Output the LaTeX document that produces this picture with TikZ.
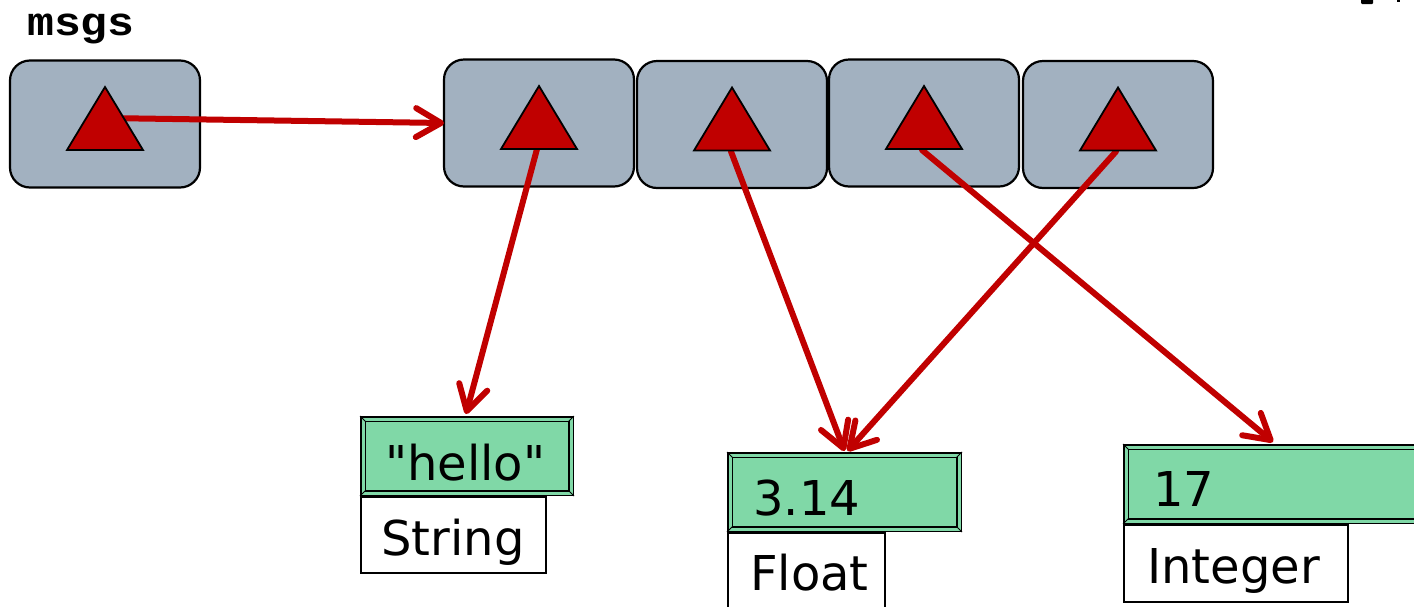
\documentclass[tikz,border=0pt]{standalone}
\usepackage{fontspec}
\setmainfont{DejaVu Sans}[Ligatures=TeXOff]
\newfontfamily\codefont{Liberation Mono}[FakeStretch=1.12]
\usetikzlibrary{arrows.meta,calc}
\definecolor{cellgray}{RGB}{162,177,192}
\definecolor{ptrred}{RGB}{192,0,0}
\definecolor{valgreen}{RGB}{128,216,167}

% red triangle marking a reference held inside a cell
\newcommand\reftri[1]{%
  \draw[fill=ptrred, line width=1.8pt, line join=miter]
    ($(#1.center)+(-38,26)$) -- ($(#1.center)+(0,-37)$) -- ($(#1.center)+(38,26)$) -- cycle;}
% bevelled corners of a framed value box
\newcommand\bevel[1]{%
  \draw[line width=0.8pt]
    ($(#1.north west)+(-3,-3)$) -- ($(#1.north west)+(3,3)$)
    ($(#1.north east)+(3,-3)$) -- ($(#1.north east)+(-3,3)$)
    ($(#1.south west)+(-3,3)$) -- ($(#1.south west)+(3,-3)$)
    ($(#1.south east)+(3,3)$) -- ($(#1.south east)+(-3,-3)$);}

\begin{document}
\begin{tikzpicture}[x=1pt,y=-1pt,
  cell/.style={draw=black, line width=2.2pt, fill=cellgray, rounded corners=20pt,
    minimum width=190pt, minimum height=127pt, inner sep=0pt, outer sep=0pt},
  ptr/.style={draw=ptrred, line width=6pt, line cap=round,
    -{Straight Barb[length=25pt,width=29pt,round]}},
  valbox/.style={draw=black, line width=1.6pt, double=valgreen, double distance=3pt,
    fill=valgreen, inner sep=0pt, outer sep=0pt, minimum height=74pt},
  typebox/.style={draw=black, line width=2pt, fill=white, inner sep=0pt,
    outer sep=0pt, anchor=north west},
  txt/.style={anchor=base west, inner sep=0pt, font=\fontsize{48}{56}\selectfont},
]
\path[use as bounding box] (0,0) rectangle (1414,606);
\clip (0,0) rectangle (1414,606);

% variable name
\node[anchor=base west, inner sep=0pt, font=\codefont\bfseries\fontsize{40}{44}\selectfont]
  (name) at (27,35) {msgs};

% the variable cell and the four list cells
\node[cell] (m)  at (105,124) {};
\node[cell] (c1) at (539,123) {};
\node[cell] (c2) at (732,124.5) {};
\node[cell] (c3) at (924,123) {};
\node[cell] (c4) at (1118,124.5) {};

% type tags under the values
\node[typebox, minimum width=185pt, minimum height=76pt] (ts) at (361,497) {};
\node[typebox, minimum width=157pt, minimum height=90pt] (tf) at (728,533) {};
\node[typebox, minimum width=224pt, minimum height=77pt] (ti) at (1124,525) {};

% framed value boxes
\node[valbox, minimum width=208pt] (vs) at (467,456) {};
\node[valbox, minimum width=229pt] (vf) at (844.5,492) {};
\node[valbox, minimum width=314pt] (vi) at (1283,484) {};
\bevel{vs}\bevel{vf}\bevel{vi}

% texts
\node[txt] (hs) at (385,480) {"hello"};
\node[txt] (ns) at (381,555) {String};
\node[txt] (hf) at (753,515) {3.14};
\node[txt] (nf) at (750,590) {Float};
\node[txt] (hi) at (1153,506) {17};
\node[txt] (ni) at (1147,583) {Integer};

% starting points of the references
\coordinate (t0) at ($(m.center)+(0,-6)$);
\coordinate (t1) at ($(c1.center)+(-2,26)$);
\coordinate (t2) at ($(c2.center)+(-1,27)$);
\coordinate (t3) at ($(c3.center)+(-2,27)$);
\coordinate (t4) at ($(c4.center)+(-2,27)$);

% references
\draw[ptr] (t0) -- (c1.west);
\draw[ptr] (t1) -- ($(vs.north)+(-1,-5)$);
\draw[ptr] (t2) -- ($(vf.north)+(0,-4)$);
\draw[ptr] (t3) -- ($(vi.north west)+(147,-5)$);
\draw[ptr] (t4) -- ($(vf.north)+(3,-4)$);

% triangles on top of the reference lines
\reftri{m}\reftri{c1}\reftri{c2}\reftri{c3}\reftri{c4}

% fragments at the top edge
\fill[black, rounded corners=1pt] (1361,-3) rectangle (1373,4);
\fill[black] (1397,-2) rectangle (1400,2);
\end{tikzpicture}
\end{document}
